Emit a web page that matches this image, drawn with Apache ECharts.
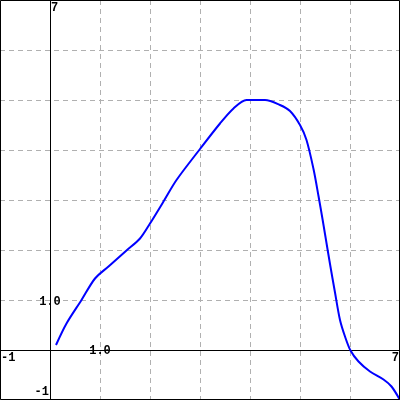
<!DOCTYPE html>
<html><head><meta charset="utf-8">
<script src="https://cdn.jsdelivr.net/npm/echarts@6/dist/echarts.min.js"></script>
<style>html,body{margin:0;padding:0;background:#fff}#c{width:400px;height:400px}</style>
</head><body><div id="c"></div>
<script>
var curveX = [0.12, 0.33, 0.63, 0.9, 1.17, 1.53, 1.8, 2.0, 2.27, 2.53, 3.0, 3.4, 3.67, 3.93, 4.3, 4.6, 4.8, 5.0, 5.13, 5.27, 5.37, 5.45, 5.5, 5.6, 5.7, 5.8, 5.9, 6.01, 6.17, 6.4, 6.67, 6.83, 7.0];
var curveY = [0.1, 0.53, 1.0, 1.43, 1.67, 1.99, 2.23, 2.53, 2.97, 3.4, 4.02, 4.53, 4.83, 5.0, 5.0, 4.9, 4.78, 4.5, 4.2, 3.62, 3.08, 2.62, 2.32, 1.72, 1.15, 0.6, 0.27, -0.01, -0.23, -0.43, -0.59, -0.73, -1.0];
var xTickLabels = [{v: -1, t: '-1'}, {v: 1, t: '1.0'}, {v: 7, t: '7'}];
var yTickLabels = [{v: 7, t: '7'}, {v: 1, t: '1.0'}, {v: -1, t: '-1'}];

var chart = echarts.init(document.getElementById('c'));
var data = curveX.map(function (x, i) { return [x, curveY[i]]; });
var gridLine = {show: true, lineStyle: {color: '#b0b0b0', type: [5, 4], width: 1}};
chart.setOption({
  animation: false,
  grid: {left: 0, right: 0, top: 0, bottom: 0},
  xAxis: {type: 'value', min: -1, max: 7, interval: 1,
    axisLine: {show: true, onZero: true, lineStyle: {color: '#000', width: 1}},
    axisTick: {show: false}, axisLabel: {show: false}, splitLine: gridLine},
  yAxis: {type: 'value', min: -1, max: 7, interval: 1,
    axisLine: {show: true, onZero: true, lineStyle: {color: '#000', width: 1}},
    axisTick: {show: false}, axisLabel: {show: false}, splitLine: gridLine},
  series: [{type: 'line', data: data, smooth: 0.3, showSymbol: false,
    lineStyle: {color: '#0000ff', width: 2}, z: 5}]
});

var font = 'bold 12px "Liberation Mono", "DejaVu Sans Mono", monospace';
var g = [{type: 'rect', shape: {x: 0.5, y: 0.5, width: 399, height: 399},
  style: {fill: 'none', stroke: '#000', lineWidth: 1}, z: 10}];
xTickLabels.forEach(function (l) {
  var p = chart.convertToPixel({gridIndex: 0}, [l.v, 0]);
  var align = l.v === -1 ? 'left' : (l.v === 7 ? 'right' : 'center');
  var x = l.v === -1 ? p[0] + 1 : (l.v === 7 ? p[0] - 1 : p[0]);
  var verticalAlign = l.v === 1 ? 'middle' : 'top';
  var y = l.v === 1 ? p[1] + 1 : p[1] + 2;
  g.push({type: 'text', x: x, y: y, z: 11,
    style: {text: l.t, font: font, fill: '#000', align: align, verticalAlign: verticalAlign}});
});
yTickLabels.forEach(function (l) {
  var p = chart.convertToPixel({gridIndex: 0}, [0, l.v]);
  var s;
  if (l.v === 7) s = {x: p[0] + 1, y: p[1] + 2, align: 'left', va: 'top'};
  else if (l.v === 1) s = {x: p[0], y: p[1] + 2, align: 'center', va: 'middle'};
  else s = {x: p[0] - 1, y: p[1] - 2, align: 'right', va: 'bottom'};
  g.push({type: 'text', x: s.x, y: s.y, z: 11,
    style: {text: l.t, font: font, fill: '#000', align: s.align, verticalAlign: s.va}});
});
chart.setOption({graphic: g});
</script></body></html>
